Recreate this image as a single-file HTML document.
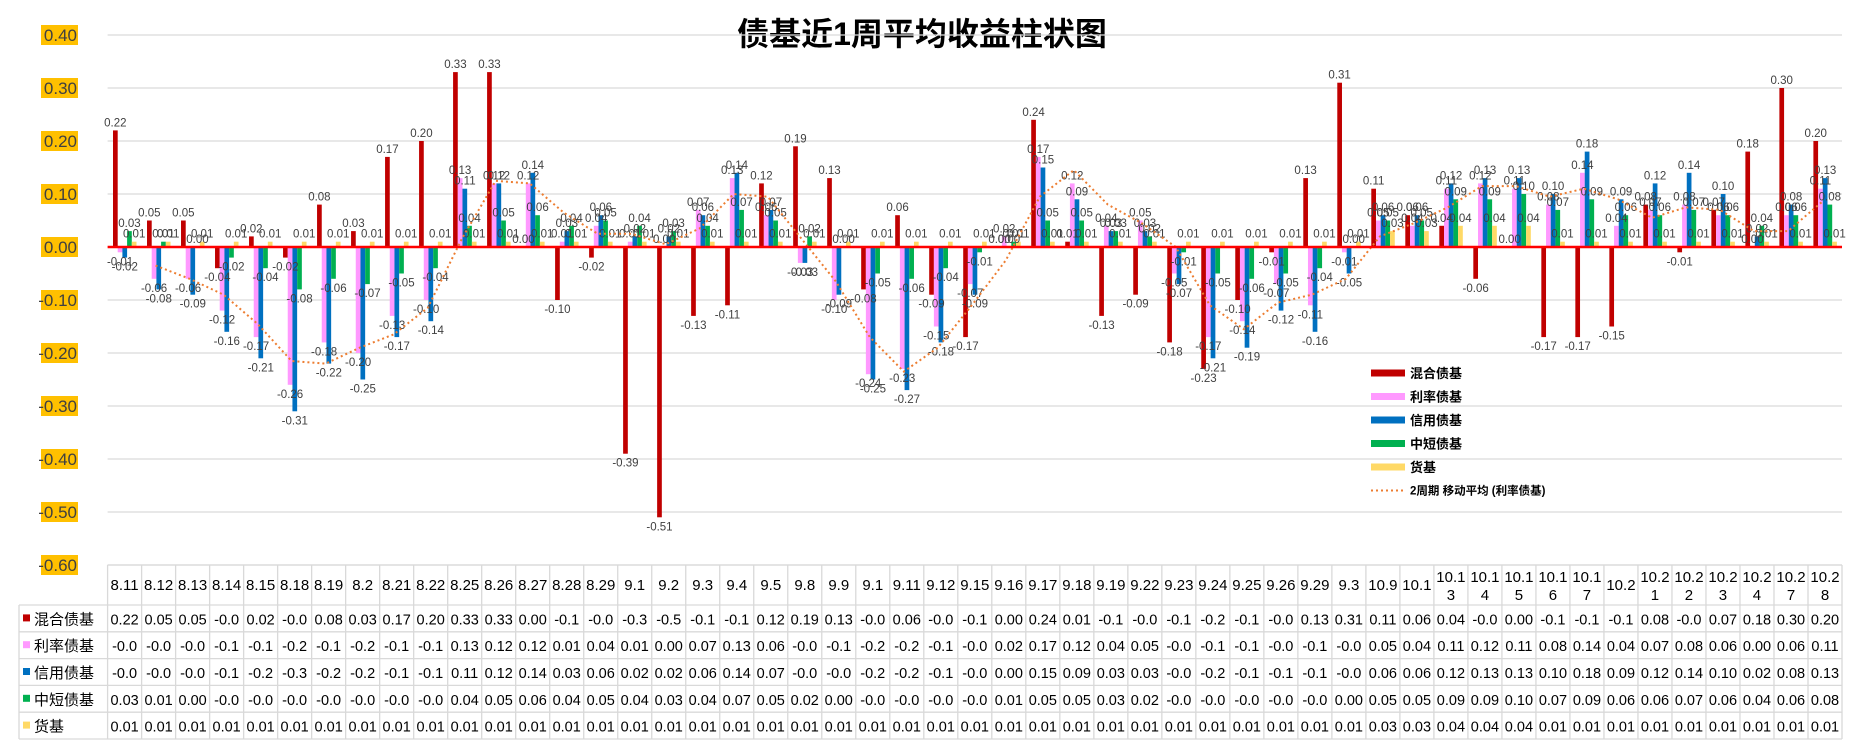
<!DOCTYPE html>
<html><head><meta charset="utf-8"><title>债基近1周平均收益柱状图</title>
<style>
html,body{margin:0;padding:0;background:#fff;}
svg{display:block;font-family:"Liberation Sans","Noto Sans CJK SC",sans-serif;}
</style></head>
<body>
<svg id="chart" width="1850" height="746" viewBox="0 0 1850 746" xmlns="http://www.w3.org/2000/svg">
<rect width="1850" height="746" fill="#fff"/>
<text x="922" y="45" text-anchor="middle" font-size="32" font-weight="bold" fill="#000">债基近1周平均收益柱状图</text>
<g id="grid"></g><g id="bars"></g><g id="labels"></g><g id="line"></g><g id="yaxis"></g><g id="table"></g><g id="legend"></g>
</svg>
<script>
const categories = ["8.11","8.12","8.13","8.14","8.15","8.18","8.19","8.2","8.21","8.22","8.25","8.26","8.27","8.28","8.29","9.1","9.2","9.3","9.4","9.5","9.8","9.9","9.1","9.11","9.12","9.15","9.16","9.17","9.18","9.19","9.22","9.23","9.24","9.25","9.26","9.29","9.3","10.9","10.1","10.13","10.14","10.15","10.16","10.17","10.2","10.21","10.22","10.23","10.24","10.27","10.28"];
const seriesNames = ["混合债基","利率债基","信用债基","中短债基","货基"];
const mixed = [0.22,0.05,0.05,-0.04,0.02,-0.02,0.08,0.03,0.17,0.20,0.33,0.33,0.00,-0.10,-0.02,-0.39,-0.51,-0.13,-0.11,0.12,0.19,0.13,-0.08,0.06,-0.09,-0.17,0.00,0.24,0.01,-0.13,-0.09,-0.18,-0.23,-0.10,-0.01,0.13,0.31,0.11,0.06,0.04,-0.06,0.00,-0.17,-0.17,-0.15,0.08,-0.01,0.07,0.18,0.30,0.20];
const rate = [-0.01,-0.06,-0.06,-0.12,-0.17,-0.26,-0.18,-0.20,-0.13,-0.10,0.13,0.12,0.12,0.01,0.04,0.01,0.00,0.07,0.13,0.06,-0.03,-0.10,-0.24,-0.23,-0.15,-0.07,0.02,0.17,0.12,0.04,0.05,-0.05,-0.17,-0.14,-0.07,-0.11,-0.01,0.05,0.04,0.11,0.12,0.11,0.08,0.14,0.04,0.07,0.08,0.06,0.00,0.06,0.11];
const credit = [-0.02,-0.08,-0.09,-0.16,-0.21,-0.31,-0.22,-0.25,-0.17,-0.14,0.11,0.12,0.14,0.03,0.06,0.02,0.02,0.06,0.14,0.07,-0.03,-0.09,-0.25,-0.27,-0.18,-0.09,0.00,0.15,0.09,0.03,0.03,-0.07,-0.21,-0.19,-0.12,-0.16,-0.05,0.06,0.06,0.12,0.13,0.13,0.10,0.18,0.09,0.12,0.14,0.10,0.02,0.08,0.13];
const shortTerm = [0.03,0.01,0.00,-0.02,-0.04,-0.08,-0.06,-0.07,-0.05,-0.04,0.04,0.05,0.06,0.04,0.05,0.04,0.03,0.04,0.07,0.05,0.02,0.00,-0.05,-0.06,-0.04,-0.01,0.01,0.05,0.05,0.03,0.02,-0.01,-0.05,-0.06,-0.05,-0.04,0.00,0.05,0.05,0.09,0.09,0.10,0.07,0.09,0.06,0.06,0.07,0.06,0.04,0.06,0.08];
const money = [0.01,0.01,0.01,0.01,0.01,0.01,0.01,0.01,0.01,0.01,0.01,0.01,0.01,0.01,0.01,0.01,0.01,0.01,0.01,0.01,0.01,0.01,0.01,0.01,0.01,0.01,0.01,0.01,0.01,0.01,0.01,0.01,0.01,0.01,0.01,0.01,0.01,0.03,0.03,0.04,0.04,0.04,0.01,0.01,0.01,0.01,0.01,0.01,0.01,0.01,0.01];
const yTicks = [0.4,0.3,0.2,0.1,0,-0.1,-0.2,-0.3,-0.4,-0.5,-0.6];

const NS="http://www.w3.org/2000/svg";
const colors=["#C00000","#FF99FF","#0070C0","#00B050","#FFD966"];
const allSeries=[mixed,rate,credit,shortTerm,money];
const X0=107.6, X1=1842, colW=(X1-X0)/categories.length;
const Y0=247, perUnit=530;
function yScale(v){return Y0 - v*perUnit;}
function xCol(i){return X0 + i*colW;}
function mk(tag,attrs,parent){const e=document.createElementNS(NS,tag);for(const k in attrs)e.setAttribute(k,attrs[k]);parent.appendChild(e);return e;}
const gGrid=document.getElementById('grid'),gBars=document.getElementById('bars'),gLab=document.getElementById('labels'),gLine=document.getElementById('line'),gY=document.getElementById('yaxis'),gT=document.getElementById('table'),gL=document.getElementById('legend');

// gridlines + y labels
yTicks.forEach(t=>{
  const y=yScale(t);
  if(t!==0){const l=mk('line',{x1:X0,x2:X1,y1:y,y2:y,stroke:'#D9D9D9','stroke-width':1.3},gGrid);
  
  }
  const r=mk('rect',{x:41,y:y-10,width:37,height:20,fill:'#FFC000'},gY);
  
  
  const tx=mk('text',{x:77,y:y+6,'text-anchor':'end','font-size':17,fill:'#404040'},gY);
  tx.textContent=t.toFixed(2);
  
  
});

// bars
const bw=4.7;
allSeries.forEach((s,j)=>{
  s.forEach((v,i)=>{
    const x=xCol(i)+5.4+j*bw;
    const y=yScale(Math.max(v,0)), h=Math.abs(yScale(v)-Y0);
    const b=mk('rect',{x:x,y:y,width:bw,height:Math.max(h,0.01),fill:colors[j]},gBars);
    
    
    const lt=mk('text',{x:x+bw/2,y:v>=0?yScale(v)-4:yScale(v)+13,'text-anchor':'middle','font-size':11.5,fill:'#404040'},gLab);
    lt.textContent=v.toFixed(2);
    
    
  });
});
// zero axis
const z=mk('line',{x1:X0,x2:X1,y1:Y0,y2:Y0,stroke:'#FF0000','stroke-width':2.5},gGrid.parentNode);



// moving average
let pts=[];
for(let i=1;i<rate.length;i++){pts.push((xCol(i)+colW/2-3).toFixed(1)+','+yScale((rate[i-1]+rate[i])/2).toFixed(1));}
const ma=mk('polyline',{points:pts.join(' '),fill:'none',stroke:'#ED7D31','stroke-width':2,'stroke-dasharray':'2 3'},gLine);



// table
const tTop=565,hdrH=40,rowH=26.8,tLeft=19;
const tBottom=tTop+hdrH+rowH*5;
function fmt(v){if(v<0){return '-'+(Math.floor(Math.abs(v)*10+1e-9)/10).toFixed(1);}return v.toFixed(2);}
for(let i=0;i<=categories.length;i++){
  const x=xCol(i);
  mk('line',{x1:x,x2:x,y1:tTop,y2:tBottom,stroke:'#D9D9D9','stroke-width':1.3},gT);
}
mk('line',{x1:tLeft,x2:tLeft,y1:tTop+hdrH,y2:tBottom,stroke:'#D9D9D9','stroke-width':1.3},gT);
for(let r=0;r<=5;r++){
  const y=tTop+hdrH+r*rowH;
  mk('line',{x1:tLeft,x2:X1,y1:y,y2:y,stroke:'#D9D9D9','stroke-width':1.3},gT);
}
mk('line',{x1:X0,x2:X1,y1:tTop,y2:tTop,stroke:'#D9D9D9','stroke-width':1.3},gT);
categories.forEach((c,i)=>{
  const cx=xCol(i)+colW/2;
  const h=mk('text',{x:cx,'text-anchor':'middle','font-size':15,fill:'#000'},gT);
  
  
  if(c.length>4){
    h.setAttribute('y',tTop+17);
    const a=mk('tspan',{x:cx},h);a.textContent=c.slice(0,4);
    const b=mk('tspan',{x:cx,dy:18},h);b.textContent=c.slice(4);
  } else {h.setAttribute('y',tTop+25);h.textContent=c;}
});
allSeries.forEach((s,j)=>{
  const y=tTop+hdrH+j*rowH+rowH/2;
  const sq=mk('rect',{x:23,y:y-4,width:7,height:7,fill:colors[j]},gT);
  
  
  const nm=mk('text',{x:34,y:y+6,'font-size':15,fill:'#000'},gT);
  nm.textContent=seriesNames[j];
  
  
  s.forEach((v,i)=>{
    const t=mk('text',{x:xCol(i)+colW/2,y:y+6,'text-anchor':'middle','font-size':14.5,fill:'#000'},gT);
    t.textContent=fmt(v);
    
    
  });
});

// legend
seriesNames.forEach((n,j)=>{
  const y=373+j*23.5;
  const r=mk('rect',{x:1371,y:y-3.5,width:34,height:7,fill:colors[j]},gL);
  
  
  const t=mk('text',{x:1410,y:y+5,'font-size':13,'font-weight':'bold',fill:'#000'},gL);
  t.textContent=n;
  
  
});
const ly=373+5*23.5;
const ll=mk('line',{x1:1371,x2:1405,y1:ly,y2:ly,stroke:'#ED7D31','stroke-width':2,'stroke-dasharray':'2 3'},gL);


const lt=mk('text',{x:1410,y:ly+4,'font-size':11.5,'font-weight':'bold',fill:'#000'},gL);
lt.textContent='2周期 移动平均 (利率债基)';


</script>
</body></html>
